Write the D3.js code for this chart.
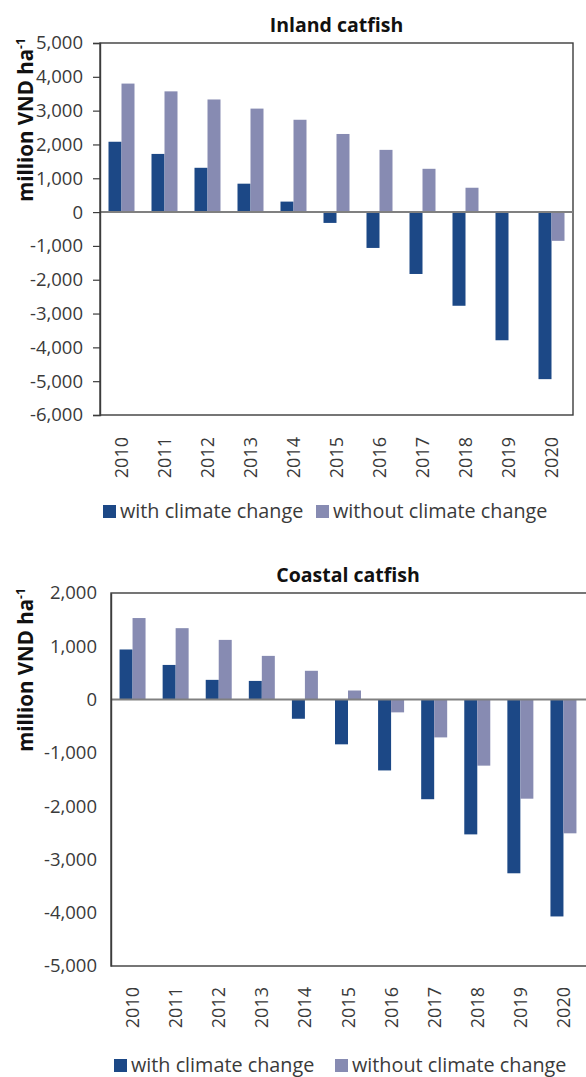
<!DOCTYPE html>
<html>
<head>
<meta charset="utf-8">
<script src="https://cdn.jsdelivr.net/npm/d3@7"></script>
<style>
  html, body { margin: 0; padding: 0; background: #fff; }
  svg { display: block; }
  text { font-family: "Open Sans", "Noto Sans", sans-serif; }
</style>
</head>
<body>
<svg id="chart" width="586" height="1077"></svg>
<script>
// ---- data ----
const years = ["2010","2011","2012","2013","2014","2015","2016","2017","2018","2019","2020"];
const seriesNames = ["with climate change", "without climate change"];
const seriesColors = ["#1c4886", "#878bb2"];

const inlandTitle = "Inland catfish";
const inlandWith    = [2080, 1720, 1310, 840, 310, -320, -1060, -1830, -2770, -3790, -4940];
const inlandWithout = [3800, 3570, 3330, 3060, 2730, 2310, 1840, 1280, 720, 0, -850];
const inlandTicks   = [5000, 4000, 3000, 2000, 1000, 0, -1000, -2000, -3000, -4000, -5000, -6000];

const coastalTitle = "Coastal catfish";
const coastalWith    = [940, 650, 370, 350, -360, -840, -1330, -1870, -2530, -3260, -4070];
const coastalWithout = [1530, 1340, 1120, 820, 540, 170, -240, -710, -1240, -1860, -2510];
const coastalTicks   = [2000, 1000, 0, -1000, -2000, -3000, -4000, -5000];

const svg = d3.select("#chart");
const locale = d3.formatLocale({ decimal: ".", thousands: ",", grouping: [3], currency: ["", ""], minus: "-" });
const fmt = locale.format(",");

function drawChart(cfg) {
  const g = svg.append("g");
  const x0 = d3.scaleBand().domain(years).range([cfg.left, cfg.right]).padding(0);
  const barW = 13;
  const x1 = d3.scaleBand().domain(seriesNames)
      .range([(x0.bandwidth() - 2 * barW) / 2, (x0.bandwidth() + 2 * barW) / 2]);
  const y = d3.scaleLinear().domain(d3.extent(cfg.ticks)).range([cfg.bottom, cfg.top]);

  // frame
  g.append("rect")
    .attr("x", cfg.left).attr("y", cfg.top)
    .attr("width", cfg.frameRight - cfg.left).attr("height", cfg.bottom - cfg.top)
    .attr("fill", "none").attr("stroke", "#3c3c3c").attr("stroke-width", 1.4);

  // bars
  const rows = years.map((yr, i) => ({ yr, vals: [cfg.withVals[i], cfg.withoutVals[i]] }));
  const grp = g.selectAll("g.year").data(rows).join("g")
    .attr("transform", d => `translate(${x0(d.yr)},0)`);
  grp.selectAll("rect").data(d => d.vals.map((v, k) => ({ v, k }))).join("rect")
    .attr("x", d => x1(seriesNames[d.k]))
    .attr("width", x1.bandwidth())
    .attr("y", d => Math.min(y(d.v), y(0)))
    .attr("height", d => Math.abs(y(d.v) - y(0)))
    .attr("fill", d => seriesColors[d.k]);

  // zero line
  g.append("line")
    .attr("x1", cfg.left).attr("x2", cfg.frameRight)
    .attr("y1", y(0)).attr("y2", y(0))
    .attr("stroke", "#808080").attr("stroke-width", 2);

  // y axis
  const yAxis = d3.axisLeft(y).tickValues(cfg.ticks).tickFormat(fmt)
    .tickSize(cfg.tickSize).tickPadding(cfg.tickPad);
  const ya = g.append("g").attr("transform", `translate(${cfg.left},0)`).call(yAxis);
  ya.select(".domain").attr("stroke", "#3c3c3c").attr("stroke-width", 1.4);
  ya.selectAll(".tick line").attr("stroke", "#3c3c3c").attr("stroke-width", 1.2);
  ya.selectAll(".tick text")
    .attr("font-family", "'Open Sans', sans-serif")
    .attr("font-size", 18.5).attr("fill", "#3a3a3a");

  // x labels
  g.selectAll("text.xl").data(years).join("text")
    .attr("class", "xl")
    .attr("transform", d => `translate(${x0(d) + x0.bandwidth() / 2 + 6.5},${cfg.xLabelY}) rotate(-90)`)
    .attr("text-anchor", "end")
    .attr("font-size", 18).attr("fill", "#3a3a3a")
    .text(d => d);

  // title
  g.append("text")
    .attr("x", (cfg.left + cfg.right) / 2).attr("y", cfg.titleY)
    .attr("text-anchor", "middle").attr("font-weight", 700)
    .attr("font-size", 19.5).attr("fill", "#111")
    .text(cfg.title);

  // y-axis label
  const yl = g.append("text")
    .attr("transform", `translate(33,${cfg.yLabelY}) rotate(-90)`)
    .attr("text-anchor", "middle").attr("font-weight", 700)
    .attr("font-size", 20.5).attr("fill", "#111");
  yl.append("tspan").text("million VND ha");
  yl.append("tspan").attr("font-size", 12).attr("dy", -8).text("-1");

  // legend
  cfg.legend.forEach((lx, k) => {
    g.append("rect").attr("x", lx).attr("y", cfg.legendY - 13)
      .attr("width", 13).attr("height", 13).attr("fill", seriesColors[k]);
    g.append("text").attr("x", lx + 17).attr("y", cfg.legendY)
      .attr("font-size", 19.8).attr("fill", "#3a3a3a")
      .text(seriesNames[k]);
  });
}

drawChart({
  title: inlandTitle, withVals: inlandWith, withoutVals: inlandWithout, ticks: inlandTicks,
  left: 100, right: 573, frameRight: 573, top: 43, bottom: 415,
  tickSize: 7, tickPad: 10, xLabelY: 437, titleY: 32, yLabelY: 120,
  legend: [103, 316], legendY: 518
});

drawChart({
  title: coastalTitle, withVals: coastalWith, withoutVals: coastalWithout, ticks: coastalTicks,
  left: 111, right: 585, frameRight: 592, top: 593, bottom: 966,
  tickSize: 0, tickPad: 14, xLabelY: 987, titleY: 582, yLabelY: 670,
  legend: [114, 335], legendY: 1072
});
</script>
</body>
</html>
